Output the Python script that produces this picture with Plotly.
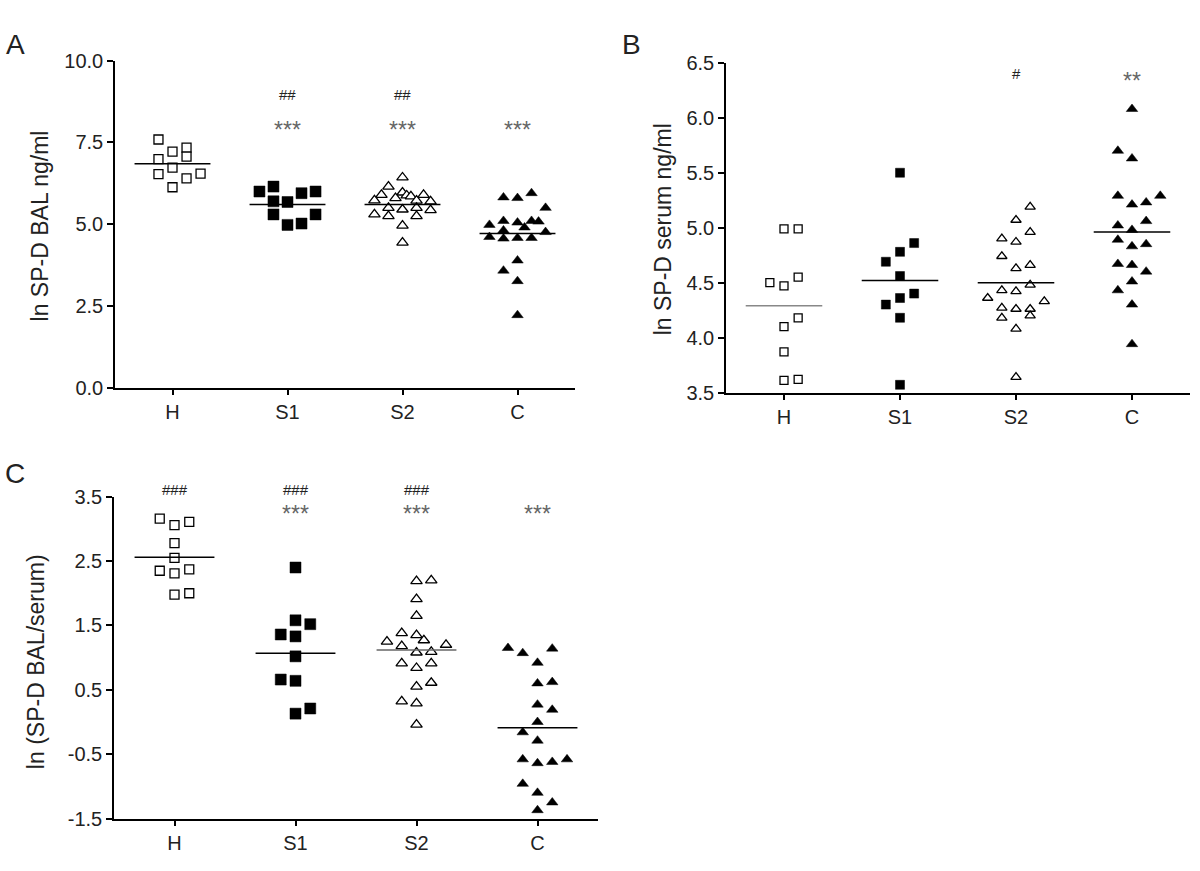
import plotly.graph_objects as go

categories = ["H", "S1", "S2", "C"]

# ---------- Panel A: ln SP-D BAL ng/ml ----------
A_H = [7.59, 7.22, 7.34, 6.99, 7.07, 6.73, 6.53, 6.55, 6.40, 6.13]
A_H_slot = [-1, 0, 1, -1, 1, 0, -1, 2, 1, 0]
A_S1 = [6.00, 6.15, 5.95, 6.00, 5.70, 5.68, 5.30, 5.30, 4.98, 5.02]
A_S1_slot = [-2, -1, 1, 2, -1, 0, -1, 2, 0, 1]
A_S2 = [6.43, 6.15, 5.90, 5.97, 5.88, 5.85, 5.80, 5.90, 5.70, 5.72,
        5.73, 5.50, 5.25, 5.45, 5.50, 5.25, 5.43, 5.30, 4.96, 4.44]
A_S2_slot = [0, -1, -1.5, 0, 0.3, 0.6, -0.5, 1.5, 2, 1,
             -2, -1, -1, 0, 1, 1, 2, -2, 0, 0]
A_C = [5.82, 5.80, 5.95, 5.50, 4.98, 5.10, 5.05, 5.10, 5.08, 4.90,
       4.76, 4.61, 4.81, 4.56, 4.58, 4.58, 3.89, 3.58, 3.26, 2.22]
A_C_slot = [-1, 0, 1, 2, -2, -1, 0, 1, 1.5, 0.5,
            2, -2, -1, -1, 0, 1, 0, -1, 0, 0]
A_means = [6.85, 5.60, 5.60, 4.72]
A_hash = ["", "##", "##", ""]
A_star = ["", "***", "***", "***"]
A_ticks = [0.0, 2.5, 5.0, 7.5, 10.0]

# ---------- Panel B: ln SP-D serum ng/ml ----------
B_H = [4.99, 4.99, 4.50, 4.47, 4.55, 4.10, 4.18, 3.87, 3.61, 3.62]
B_H_slot = [0, 1, -1, 0, 1, 0, 1, 0, 0, 1]
B_S1 = [5.50, 4.86, 4.78, 4.69, 4.56, 4.30, 4.36, 4.40, 4.18, 3.57]
B_S1_slot = [0, 1, 0, -1, 0, -1, 0, 1, 0, 0]
B_S2 = [5.19, 5.07, 4.96, 4.90, 4.87, 4.74, 4.66, 4.63, 4.48, 4.43,
        4.42, 4.36, 4.33, 4.27, 4.26, 4.26, 4.20, 4.18, 4.08, 3.64]
B_S2_slot = [1, 0, 1, -1, 0, -1, 1, 0, 1, -1,
             0, -2, 2, -1, 0, 1, 1, -1, 0, 0]
B_C = [6.08, 5.70, 5.63, 5.29, 5.29, 5.21, 5.23, 5.02, 5.06, 4.98,
       4.89, 4.83, 4.85, 4.67, 4.66, 4.60, 4.43, 4.51, 4.30, 3.94]
B_C_slot = [0, -1, 0, -1, 2, 0, 1, -1, 1, 0,
            -1, 0, 1, -1, 0, 1, -1, 0, 0, 0]
B_means = [4.29, 4.52, 4.50, 4.96]
B_hash = ["", "", "#", ""]
B_star = ["", "", "", "**"]
B_ticks = [3.5, 4.0, 4.5, 5.0, 5.5, 6.0, 6.5]

# ---------- Panel C: ln (SP-D BAL/serum) ----------
C_H = [3.16, 3.06, 3.11, 2.78, 2.55, 2.35, 2.31, 2.37, 1.98, 2.00]
C_H_slot = [-1, 0, 1, 0, 0, -1, 0, 1, 0, 1]
C_S1 = [2.40, 1.58, 1.52, 1.36, 1.33, 1.02, 0.66, 0.64, 0.21, 0.13]
C_S1_slot = [0, 0, 1, -1, 0, 0, -1, 0, 1, 0]
C_S2 = [2.19, 2.20, 1.91, 1.65, 1.25, 1.38, 1.35, 1.27, 1.18, 1.20,
        1.08, 1.09, 0.91, 0.84, 0.91, 0.55, 0.61, 0.32, 0.29, -0.04]
C_S2_slot = [0, 1, 0, 0, -2, -1, 0, 0.5, -1, 2,
             0, 1, -1, 0, 1, 0, 1, -1, 0, 0]
C_C = [1.15, 1.07, 1.14, 0.92, 0.60, 0.62, 0.27, 0.19, 0.00, -0.16,
       -0.29, -0.58, -0.64, -0.62, -0.58, -0.96, -1.10, -1.25, -1.37]
C_C_slot = [-2, -1, 1, 0, 0, 1, 0, 1, 0, -1,
            0, -1, 0, 1, 2, -1, 0, 1, 0]
C_means = [2.56, 1.07, 1.12, -0.09]
C_hash = ["###", "###", "###", ""]
C_star = ["", "***", "***", "***"]
C_ticks = [-1.5, -0.5, 0.5, 1.5, 2.5, 3.5]

# ---------- styling ----------
W, H = 1200, 871
FONT = "Liberation Sans, Arial, sans-serif"
SLOT = 0.122
HALF = 0.33
HASH_SIZE = 15
STAR_SIZE = 23

fig = go.Figure()


def add_group(vals, slots, idx, xa, ya, filled, symbol, size):
    fig.add_trace(go.Scatter(
        x=[idx + s * SLOT for s in slots], y=vals, mode="markers",
        xaxis=xa, yaxis=ya, showlegend=False, hoverinfo="skip",
        marker=dict(symbol=symbol, size=size,
                    color="black" if filled else "white",
                    line=dict(color="black", width=1.3 if not filled else 0.5))))


def add_mean(m, idx, xa, ya, color="black"):
    fig.add_trace(go.Scatter(
        x=[idx - HALF, idx + HALF], y=[m, m], mode="lines",
        xaxis=xa, yaxis=ya, showlegend=False, hoverinfo="skip",
        line=dict(color=color, width=1.5)))


panels = [
    ("x", "y", [(A_H, A_H_slot), (A_S1, A_S1_slot), (A_S2, A_S2_slot), (A_C, A_C_slot)],
     A_means, ["black"] * 4, (9, 11, 10, 10)),
    ("x2", "y2", [(B_H, B_H_slot), (B_S1, B_S1_slot), (B_S2, B_S2_slot), (B_C, B_C_slot)],
     B_means, ["#888888", "black", "black", "black"], (8, 9, 9, 10)),
    ("x3", "y3", [(C_H, C_H_slot), (C_S1, C_S1_slot), (C_S2, C_S2_slot), (C_C, C_C_slot)],
     C_means, ["black", "black", "#666666", "black"], (9, 11, 10, 10)),
]
styles = [(False, "square"), (True, "square"), (False, "triangle-up"), (True, "triangle-up")]

for xa, ya, groups, means, lcolors, sizes in panels:
    for i, (vals, slots) in enumerate(groups):
        filled, sym = styles[i]
        add_group(vals, slots, i, xa, ya, filled, sym, sizes[i])
    for i, m in enumerate(means):
        add_mean(m, i, xa, ya, lcolors[i])


def xaxis(domain, anchor):
    return dict(domain=domain, anchor=anchor, range=[-0.5, 3.5],
                tickvals=[0, 1, 2, 3], ticktext=categories,
                showline=True, linecolor="black", linewidth=1.5,
                ticks="outside", ticklen=6, tickwidth=1.5, tickcolor="black",
                showgrid=False, zeroline=False, fixedrange=True,
                tickfont=dict(family=FONT, size=20, color="#222222"))


def yaxis(domain, anchor, rng, tv):
    return dict(domain=domain, anchor=anchor, range=rng, tickvals=tv,
                ticktext=[f"{v:.1f}" for v in tv],
                showline=True, linecolor="black", linewidth=1.5,
                ticks="outside", ticklen=6, tickwidth=1.5, tickcolor="black",
                showgrid=False, zeroline=False, fixedrange=True,
                tickfont=dict(family=FONT, size=20, color="#222222"))


def px(x):
    return x / W


def py(y):
    return 1 - y / H


annotations = []


def label(text, x, y, size, angle=0):
    annotations.append(dict(text=text, x=px(x), y=py(y), xref="paper", yref="paper",
                            showarrow=False, textangle=angle,
                            font=dict(family=FONT, size=size, color="#222222"),
                            xanchor="center", yanchor="middle"))


label("A", 15, 34, 28)
label("B", 631, 34, 28)
label("C", 15, 474, 28)
label("ln SP-D BAL ng/ml", 40, 221, 23, -90)
label("ln SP-D serum ng/ml", 663, 224, 23, -90)
label("ln (SP-D BAL/serum)", 36, 668, 23, -90)

# pixel extents of each panel's y axis (top, bottom) and value range
Y_PIX = {"y": (51, 386.5, 0, 10), "y2": (53.2, 391.4, 3.5, 6.5), "y3": (498.3, 828.5, -1.5, 3.5)}


def sig(texts, level, yref, xref, size, color, kind):
    top, bot, lo, hi = Y_PIX[yref]
    ppu = (bot - top) / (hi - lo)
    if kind == "hash":   # glyph centred in its box: anchor box bottom under the glyph
        yval, yanchor = level - 0.558 * size / ppu, "bottom"
    else:                # asterisks sit near the top of their box
        yval, yanchor = level + 0.325 * size / ppu, "top"
    for i, t in enumerate(texts):
        if t:
            annotations.append(dict(text=t, x=i, y=yval, xref=xref, yref=yref,
                                    showarrow=False, borderpad=0,
                                    font=dict(family=FONT, size=size, color=color),
                                    xanchor="center", yanchor=yanchor))


sig(A_hash, 8.93, "y", "x", HASH_SIZE, "#222222", "hash")
sig(A_star, 8.10, "y", "x", STAR_SIZE, "#666666", "star")
sig(B_hash, 6.395, "y2", "x2", HASH_SIZE, "#222222", "hash")
sig(B_star, 6.395, "y2", "x2", STAR_SIZE, "#666666", "star")
sig(C_hash, 3.586, "y3", "x3", HASH_SIZE, "#222222", "hash")
sig(C_star, 3.333, "y3", "x3", STAR_SIZE, "#666666", "star")

fig.update_layout(
    width=W, height=H, margin=dict(l=0, r=0, t=0, b=0),
    paper_bgcolor="white", plot_bgcolor="white", showlegend=False,
    xaxis=xaxis([px(115), px(575)], "y"),
    yaxis=yaxis([py(386.5), py(51)], "x", [0, 10], A_ticks),
    xaxis2=xaxis([px(726), px(1190)], "y2"),
    yaxis2=yaxis([py(391.4), py(53.2)], "x2", [3.5, 6.5], B_ticks),
    xaxis3=xaxis([px(114), px(598)], "y3"),
    yaxis3=yaxis([py(828.5), py(498.3)], "x3", [-1.5, 3.5], C_ticks),
    annotations=annotations,
)

fig.write_html("out.html", config={"displayModeBar": False},
               post_script="document.body.style.margin='0';")
